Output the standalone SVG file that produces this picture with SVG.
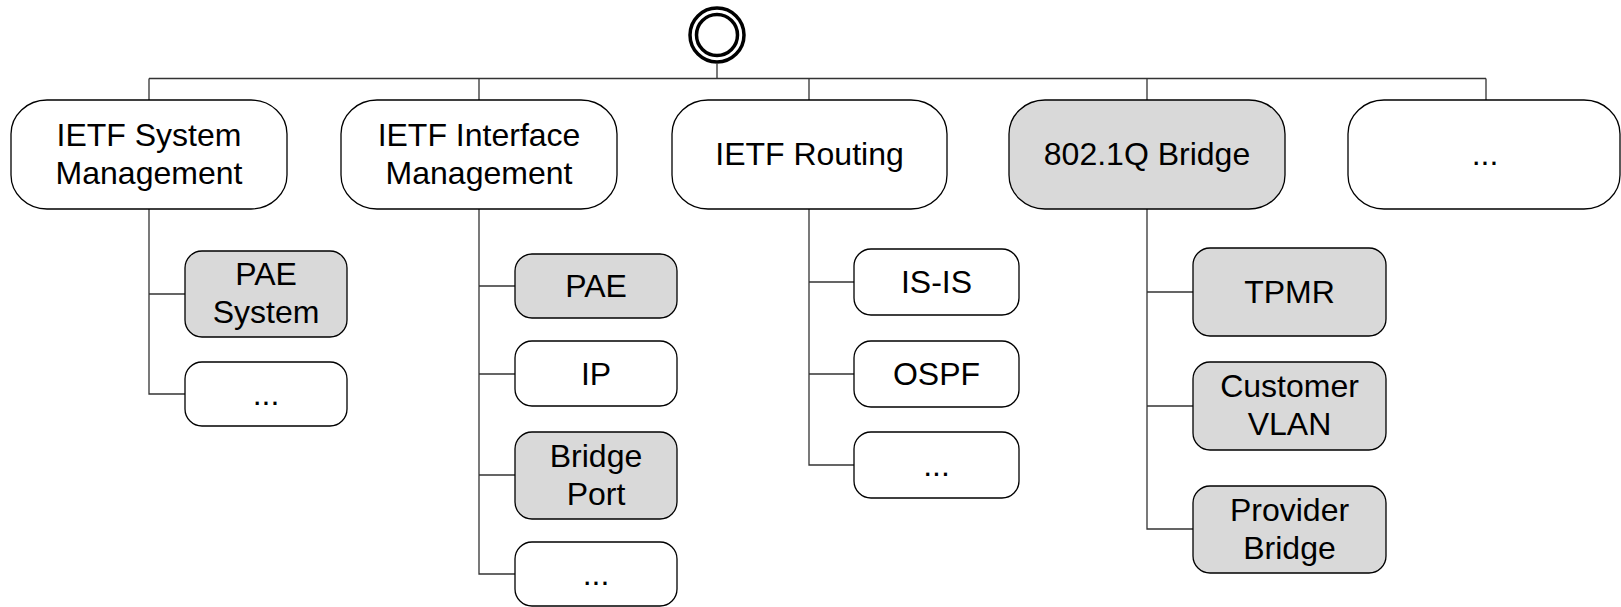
<svg xmlns="http://www.w3.org/2000/svg" width="1621" height="607" viewBox="0 0 1621 607">
<style>
.top{fill:#fff;stroke:#000;stroke-width:1.3}
.sub{fill:#fff;stroke:#000;stroke-width:1.3}
.g{fill:#d9d9d9}
.t{font-family:"Liberation Sans",Arial,sans-serif;font-size:32px;fill:#000;text-anchor:middle}
.c{fill:none;stroke:#333;stroke-width:1.3}
.root{fill:none;stroke:#000;stroke-width:3.5}
</style>
<rect width="1621" height="607" fill="#fff"/>
<g id="connectors">
<path class="c" d="M717 64V78.5M149 78.5H1486M149 78.5V100M479 78.5V100M809 78.5V100M1147 78.5V100M1486 78.5V100"/>
<path class="c" d="M149 209V394H185M149 294H185"/>
<path class="c" d="M479 209V574H515M479 286H515M479 374H515M479 475H515"/>
<path class="c" d="M809 209V465H854M809 282H854M809 374H854"/>
<path class="c" d="M1147 209V529H1193M1147 292H1193M1147 406H1193"/>
</g>
<g id="root">
<circle class="root" cx="717" cy="35" r="27"/>
<circle class="root" cx="717" cy="35" r="20.5"/>
</g>
<g id="ietf-system">
<rect class="top" x="11" y="100" width="276" height="109" rx="36" ry="34"/>
<text class="t" x="149" y="146">IETF System</text>
<text class="t" x="149" y="184">Management</text>
</g>
<g id="ietf-interface">
<rect class="top" x="341" y="100" width="276" height="109" rx="36" ry="34"/>
<text class="t" x="479" y="146">IETF Interface</text>
<text class="t" x="479" y="184">Management</text>
</g>
<g id="ietf-routing">
<rect class="top" x="672" y="100" width="275" height="109" rx="36" ry="34"/>
<text class="t" x="809.5" y="165">IETF Routing</text>
</g>
<g id="bridge-8021q">
<rect class="top g" x="1009" y="100" width="276" height="109" rx="36" ry="34"/>
<text class="t" x="1147" y="165">802.1Q Bridge</text>
</g>
<g id="top-more">
<rect class="top" x="1348" y="100" width="272" height="109" rx="36" ry="34"/>
<text class="t" x="1485" y="165">...</text>
</g>
<g id="pae-system">
<rect class="sub g" x="185" y="251" width="162" height="86" rx="17"/>
<text class="t" x="266" y="285">PAE</text>
<text class="t" x="266" y="323">System</text>
</g>
<g id="sys-more">
<rect class="sub" x="185" y="362" width="162" height="64" rx="17"/>
<text class="t" x="266" y="405">...</text>
</g>
<g id="pae">
<rect class="sub g" x="515" y="254" width="162" height="64" rx="17"/>
<text class="t" x="596" y="297">PAE</text>
</g>
<g id="ip">
<rect class="sub" x="515" y="341" width="162" height="65" rx="17"/>
<text class="t" x="596" y="385">IP</text>
</g>
<g id="bridge-port">
<rect class="sub g" x="515" y="432" width="162" height="87" rx="17"/>
<text class="t" x="596" y="467">Bridge</text>
<text class="t" x="596" y="505">Port</text>
</g>
<g id="if-more">
<rect class="sub" x="515" y="542" width="162" height="64" rx="17"/>
<text class="t" x="596" y="585">...</text>
</g>
<g id="isis">
<rect class="sub" x="854" y="249" width="165" height="66" rx="17"/>
<text class="t" x="936.5" y="293">IS-IS</text>
</g>
<g id="ospf">
<rect class="sub" x="854" y="341" width="165" height="66" rx="17"/>
<text class="t" x="936.5" y="385">OSPF</text>
</g>
<g id="rt-more">
<rect class="sub" x="854" y="432" width="165" height="66" rx="17"/>
<text class="t" x="936.5" y="476">...</text>
</g>
<g id="tpmr">
<rect class="sub g" x="1193" y="248" width="193" height="88" rx="17"/>
<text class="t" x="1289.5" y="303">TPMR</text>
</g>
<g id="customer-vlan">
<rect class="sub g" x="1193" y="362" width="193" height="88" rx="17"/>
<text class="t" x="1289.5" y="397">Customer</text>
<text class="t" x="1289.5" y="435">VLAN</text>
</g>
<g id="provider-bridge">
<rect class="sub g" x="1193" y="486" width="193" height="87" rx="17"/>
<text class="t" x="1289.5" y="521">Provider</text>
<text class="t" x="1289.5" y="559">Bridge</text>
</g>
</svg>
